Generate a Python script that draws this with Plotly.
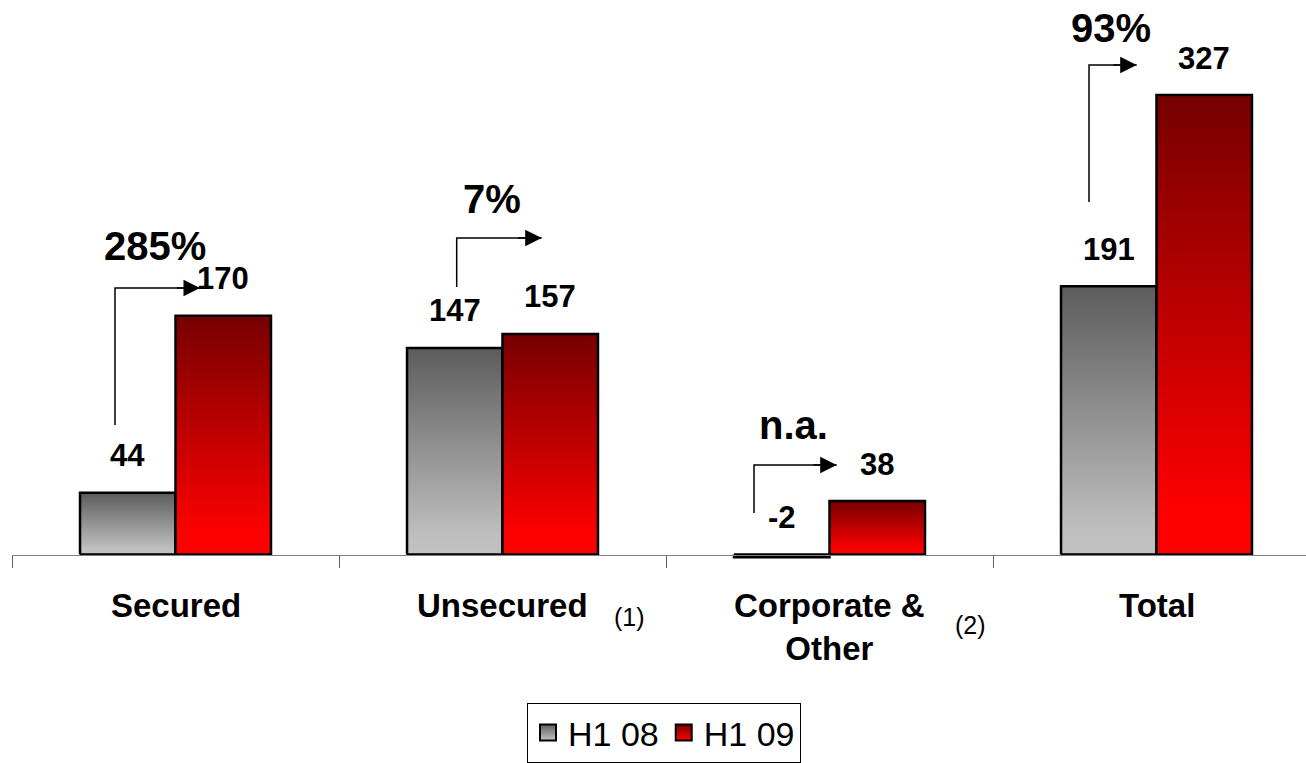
import plotly.graph_objects as go

# ---------------- data ----------------
categories = ["Secured", "Unsecured", "Corporate &<br>Other", "Total"]
footnotes = ["", "(1)", "(2)", ""]
series_names = ["H1 08", "H1 09"]
h1_08 = [44, 147, -2, 191]
h1_09 = [170, 157, 38, 327]
growth_labels = ["285%", "7%", "n.a.", "93%"]

# ---------------- layout constants (pixels) ----------------
W, H = 1306, 763
ML = 12
PX_PER_CAT = 327.0
ZERO_PX = 554.5
PX_PER_UNIT = 1.405
BAR_W = 0.292  # in category units

x_range = [-0.5, -0.5 + (W - ML) / PX_PER_CAT]
y_max = ZERO_PX / PX_PER_UNIT
y_min = -(H - ZERO_PX) / PX_PER_UNIT


def paper_y(pix):
    return (H - pix) / H


def paper_x(pix):
    return (pix - ML) / (W - ML)


def val_y(pix):
    return (ZERO_PX - pix) / PX_PER_UNIT


def cat_x(i, pix):
    return i + (pix - (ML + (i + 0.5) * PX_PER_CAT)) / PX_PER_CAT


font_family = "Liberation Sans, Arial, sans-serif"
grey_scale = [[0, "#c2c2c2"], [0.1, "#bebebe"], [1, "#5c5c5c"]]
red_scale = [[0, "#ff0000"], [0.1, "#fc0000"], [1, "#760000"]]
series_vals = [h1_08, h1_09]
series_scales = [grey_scale, red_scale]
legend_top = ["#5f5f5f", "#7a0000"]
legend_bottom = ["#c4c4c4", "#ff0000"]

fig = go.Figure()

# bars drawn as filled rectangles with vertical gradient
for s, vals in enumerate(series_vals):
    for i, v in enumerate(vals):
        x0 = i - BAR_W + s * BAR_W
        x1 = x0 + BAR_W
        fig.add_trace(go.Scatter(
            x=[x0, x0, x1, x1, x0],
            y=[0, v, v, 0, 0],
            mode="lines",
            fill="toself",
            fillgradient=dict(type="vertical", colorscale=series_scales[s]),
            line=dict(color="black", width=2.5),
            showlegend=False,
            hoverinfo="skip",
        ))

# legend entries
for s, name in enumerate(series_names):
    fig.add_trace(go.Scatter(
        x=[None], y=[None], mode="markers", name=name,
        marker=dict(symbol="square", size=19, color=legend_top[s],
                    gradient=dict(type="vertical", color=legend_bottom[s]),
                    line=dict(color="black", width=2)),
    ))

annotations = []
shapes = []

# value labels
for s, vals in enumerate(series_vals):
    for i, v in enumerate(vals):
        xc = i - BAR_W / 2 + s * BAR_W
        annotations.append(dict(
            x=xc, y=max(v, 0), xref="x", yref="y", text=str(v),
            showarrow=False, yanchor="middle", yshift=37,
            font=dict(family=font_family, size=31, color="black", weight="bold"),
        ))

# growth arrows (pixel geometry)
arrow_vx = [115, 456.7, 754, 1089]
arrow_tip = [200, 541.7, 836.7, 1136.7]
arrow_ybot = [425, 287, 513, 202]
arrow_ytop = [288, 238, 465, 65]
growth_pos_x = [154.5, 491.7, 793, 1111]
growth_pos_y = [245, 198, 424, 27]

for i in range(len(categories)):
    xv = cat_x(i, arrow_vx[i])
    xt = cat_x(i, arrow_tip[i])
    yb = val_y(arrow_ybot[i])
    yt = val_y(arrow_ytop[i])
    shapes.append(dict(type="path", xref="x", yref="y",
                       path=f"M {xv},{yb} L {xv},{yt} L {xt},{yt}",
                       line=dict(color="black", width=1.5)))
    annotations.append(dict(x=xt, y=yt, xref="x", yref="y", text="",
                            showarrow=True, ax=-25, ay=0, arrowhead=2,
                            arrowsize=2.2, arrowwidth=1.5, arrowcolor="black",
                            standoff=0))
    annotations.append(dict(
        x=cat_x(i, growth_pos_x[i]), y=val_y(growth_pos_y[i]), xref="x", yref="y",
        text=growth_labels[i], showarrow=False, yanchor="middle", yshift=-1,
        font=dict(family=font_family, size=40, color="black", weight="bold"),
    ))

# category labels
for i, c in enumerate(categories):
    annotations.append(dict(
        x=i, y=paper_y(585), xref="x", yref="paper", text=c,
        showarrow=False, yanchor="top", align="center",
        font=dict(family=font_family, size=33, color="black", weight="bold"),
    ))

foot_px = [(0, 0), (629, 617), (970, 625), (0, 0)]
for i, f in enumerate(footnotes):
    if f:
        annotations.append(dict(
            x=cat_x(i, foot_px[i][0]), y=paper_y(foot_px[i][1]), xref="x", yref="paper",
            text=f, showarrow=False, yanchor="middle",
            font=dict(family=font_family, size=25, color="black"),
        ))

fig.update_layout(
    width=W, height=H,
    margin=dict(l=ML, r=0, t=0, b=0),
    paper_bgcolor="white", plot_bgcolor="white",
    showlegend=True,
    legend=dict(orientation="h", x=paper_x(664), xanchor="center",
                y=paper_y(703), yanchor="top",
                bordercolor="black", borderwidth=1, bgcolor="white",
                font=dict(family=font_family, size=34, color="black"),
                itemwidth=30),
    xaxis=dict(range=x_range, anchor="free", position=(H - ZERO_PX) / H,
               showgrid=False, zeroline=False, showline=True,
               linecolor="#808080", linewidth=1,
               tickmode="array", tickvals=[-0.5, 0.5, 1.5, 2.5, 3.5],
               ticktext=["", "", "", "", ""], ticks="outside", ticklen=12,
               tickcolor="#606060", tickwidth=1, fixedrange=True),
    yaxis=dict(range=[y_min, y_max], visible=False, fixedrange=True),
    annotations=annotations,
    shapes=shapes,
)

fig.write_html("out.html")
